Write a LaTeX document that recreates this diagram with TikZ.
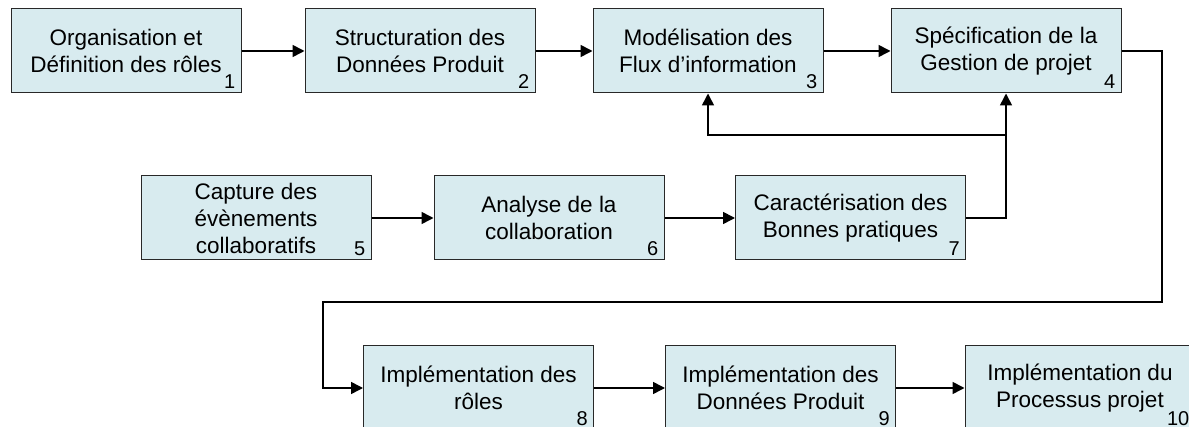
\documentclass[tikz,border=0pt]{standalone}
\usepackage{fontspec}
\setmainfont{Liberation Sans}
\usetikzlibrary{arrows.meta}
\definecolor{bleuclair}{RGB}{216,235,239}
\definecolor{gristrait}{RGB}{40,40,40}

\begin{document}
\begin{tikzpicture}[x=1pt, y=-1pt,
        boite/.style={draw=gristrait, line width=1pt, fill=bleuclair, minimum width=230pt,
            minimum height=84pt, inner sep=0pt, align=center, font=\fontsize{22.5}{27}\selectfont},
        numero/.style={anchor=south east, inner sep=0pt, xshift=-6pt, yshift=5pt,
            font=\fontsize{20}{20}\selectfont},
        fleche/.style={line width=1.6pt, -{Triangle[length=12pt,width=12pt]}}]
        \useasboundingbox (0,0) rectangle (1189,427);
        \clip (0,0) rectangle (1189,427);
        
        \foreach \x/\y/\nom/\num/\txt in {126/51/orga/1/Organisation et\\Définition des rôles,
            420/51/donnees/2/Structuration des\\Données Produit,
            708/51/flux/3/Modélisation des\\Flux d’information,
            1006/51/gestion/4/Spécification de la\\Gestion de projet,
            256/218/capture/5/Capture des\\évènements\\collaboratifs,
            549/218/analyse/6/Analyse de la\\collaboration,
            850.5/218/pratiques/7/Caractérisation des\\Bonnes pratiques,
            478.5/388/implroles/8/Implémentation des\\rôles,
            780.5/388/impldonnees/9/Implémentation des\\Données Produit,
            1080/388/implproc/10/Implémentation du\\Processus projet}
            \node[boite, label={[numero]south east:\num}] (\nom) at (\x,\y) {\txt};
        
        \draw[fleche] (orga) -- (donnees);
        \draw[fleche] (donnees) -- (flux);
        \draw[fleche] (flux) -- (gestion);
        \draw[fleche] (capture) -- (analyse);
        \draw[fleche] (analyse) -- (pratiques);
        \draw[fleche] (pratiques.east) -| (gestion.south);
        \coordinate (jonction) at (gestion.south |- 0,135);
        \draw[fleche] (jonction) -| (flux.south);
        
        \coordinate (retourA) at (1162,302);
        \coordinate (retourB) at (323,302);
        \draw[fleche] (gestion.east) -| (retourA) -- (retourB) |- (implroles.west);
        \draw[fleche] (implroles) -- (impldonnees);
        \draw[fleche] (impldonnees) -- (implproc);
    \end{tikzpicture}
\end{document}
